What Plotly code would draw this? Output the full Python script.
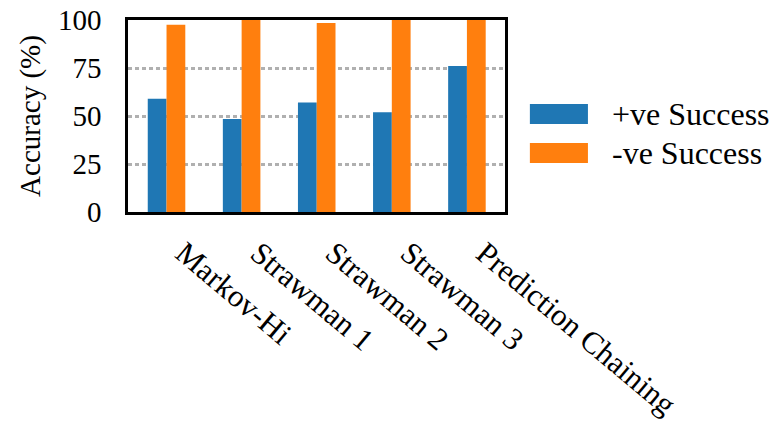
import plotly.graph_objects as go

methods = ["Markov-Hi", "Strawman 1", "Strawman 2", "Strawman 3", "Prediction Chaining"]
pos_success = [59.0, 48.5, 57.0, 52.0, 76.0]
neg_success = [97.5, 100.0, 98.5, 100.0, 100.0]
series_names = ["+ve Success", "-ve Success"]
series_colors = ["#1f77b4", "#ff7f0e"]
y_ticks = [0, 25, 50, 75, 100]

FONT = "Liberation Serif"
FS = 29

fig = go.Figure()
for name, vals, col in zip(series_names, [pos_success, neg_success], series_colors):
    fig.add_trace(go.Bar(x=methods, y=vals, name=name, marker_color=col,
                         marker_line_width=0, showlegend=False))

fig.update_layout(
    width=774, height=428,
    margin=dict(l=128, r=269, t=20, b=216),
    paper_bgcolor="white", plot_bgcolor="white",
    barmode="group", bargap=0.5, bargroupgap=0,
    font=dict(family=FONT, size=FS, color="black"),
)
fig.update_xaxes(
    range=[-0.513, 4.507], showline=True, mirror=True, linecolor="black",
    linewidth=2.5, ticks="", showgrid=False, showticklabels=False,
    automargin=False,
)
fig.update_yaxes(
    range=[0, 100], tickvals=y_ticks, showline=True, mirror=True,
    linecolor="black", linewidth=2.5, ticks="", showgrid=True,
    gridcolor="#b0b0b0", gridwidth=2.5, griddash="4px,3px", zeroline=False,
    tickfont=dict(family=FONT, size=FS), ticklabelstandoff=18, automargin=False,
    title=dict(text="Accuracy (%)", font=dict(family=FONT, size=FS), standoff=9),
)

# slanted category labels hanging below each bar group
for m in methods:
    fig.add_annotation(x=m, xref="x", y=0, yref="paper", text=m, textangle=40,
                       showarrow=False, xanchor="left", yanchor="top",
                       xshift=0, yshift=-20,
                       font=dict(family=FONT, size=31, color="black"))

# legend drawn as swatches plus labels to the right of the axes
legend_rows = [(0.5625, 0.458), (0.359, 0.255)]
for (y1, y0), name, col in zip(legend_rows, series_names, series_colors):
    fig.add_shape(type="rect", xref="paper", yref="paper", x0=1.066, x1=1.220,
                  y0=y0, y1=y1, fillcolor=col, line_width=0)
    fig.add_annotation(xref="paper", yref="paper", x=1.279, y=(y0 + y1) / 2,
                       text=name, showarrow=False, xanchor="left", yanchor="middle",
                       font=dict(family=FONT, size=32, color="black"))

fig.write_html("out.html")
